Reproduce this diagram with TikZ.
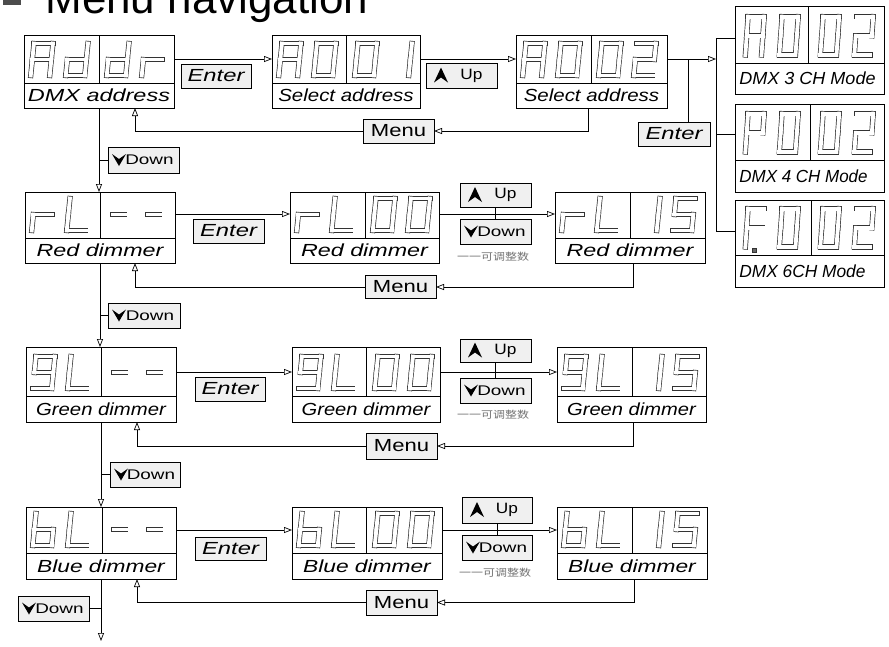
\documentclass[tikz,border=0pt]{standalone}
\usepackage{fontspec}
\setmainfont{Liberation Sans}
\newfontfamily\cjk{Noto Sans CJK SC}
\usepackage{graphicx}
\usetikzlibrary{arrows.meta}
\newcommand\hs[2]{\scalebox{#1}[1]{#2}}
% seven-segment centre lines (local coords, y down, origin bottom-left)
\def\sga#1{\draw[#1] (2.5,-34.5)--(21.5,-34.5);}
\def\sgb#1{\draw[#1] (21.5,-34.5)--(21.5,-18.5);}
\def\sgc#1{\draw[#1] (21.5,-18.5)--(21.5,-2.5);}
\def\sgd#1{\draw[#1] (2.5,-2.5)--(21.5,-2.5);}
\def\sge#1{\draw[#1] (2.5,-18.5)--(2.5,-2.5);}
\def\sgf#1{\draw[#1] (2.5,-34.5)--(2.5,-18.5);}
\def\sgg#1{\draw[#1] (2.5,-18.5)--(21.5,-18.5);}
\def\sgh#1{\draw[#1] (6,-18.5)--(18,-18.5);}
\newcommand\defch[2]{\expandafter\def\csname chr-#1\endcsname{#2}}
\defch{A}{a,b,c,e,f,g}
\defch{d}{b,c,d,e,g}
\defch{r}{e,g}
\defch{0}{a,b,c,d,e,f}
\defch{1}{b,c}
\defch{2}{a,b,g,e,d}
\defch{5}{a,f,g,c,d}
\defch{9}{a,b,c,d,f,g}
\defch{L}{d,e,f}
\defch{b}{c,d,e,f,g}
\defch{-}{h}
\defch{P}{a,b,e,f,g}
\defch{F}{a,e,f,g}
\newcommand\segch[4][]{\begin{scope}[shift={({#2},{#3})},#1,xslant=0.1]
  \edef\chlist{\csname chr-#4\endcsname}
  \foreach \s in \chlist {\csname sg\s\endcsname{segout}}
  \foreach \s in \chlist {\csname sg\s\endcsname{segin}}
\end{scope}}
\newcommand\digs[6]{\segch{#1+4}{#2}{#3}\segch{#1+39}{#2}{#4}\segch{#1+80}{#2}{#5}\segch{#1+115}{#2}{#6}}
\newcommand\bigdigs[6]{\segch[xscale=0.85,yscale=1.2]{#1+8}{#2}{#3}\segch[xscale=0.85,yscale=1.2]{#1+42}{#2}{#4}\segch[xscale=0.85,yscale=1.2]{#1+83}{#2}{#5}\segch[xscale=0.85,yscale=1.2]{#1+117}{#2}{#6}}
% display box: name x1 y1 x2 y2 ydiv xdiv label
\newcommand\dispbox[8]{%
  \node[dbx, minimum width={(#4-#2)*1pt}, minimum height={(#5-#3)*1pt}] (#1) at ({(#2+#4)/2},{(#3+#5)/2}) {};
  \draw (#2,#6) -- (#4,#6);
  \draw (#7,#3) -- (#7,#6);
  \node[lab] (#1-l) at ({(#2+#4)/2},{(#6+#5)/2}) {#8};}
\newcommand\dispplain[7]{%
  \node[dbx, minimum width={(#4-#2)*1pt}, minimum height={(#5-#3)*1pt}] (#1) at ({(#2+#4)/2},{(#3+#5)/2}) {};
  \draw (#2,#6) -- (#4,#6);
  \draw (#7,#3) -- (#7,#6);}
\newcommand\upsym[1]{\fill ([xshift=15pt]#1.west) ++(0,-8) -- ++(7,15) -- ++(-7,-5) -- ++(-7,5) -- cycle;}
\newcommand\dnsym[1]{\fill ([xshift=11pt]#1.west) ++(0,6) -- ++(-7,-12) -- ++(7,5) -- ++(7,-5) -- cycle;}
\newcommand\uptext{\hspace{20pt}\hs{1.15}{\fontsize{15}{15}\selectfont Up}}
\newcommand\dntext{\hspace{12pt}\hs{1.35}{\fontsize{14}{14}\selectfont Down}}
\newcommand\entext{\hs{1.36}{\itshape Enter}}
\newcommand\mntext{\hs{1.26}{Menu}}
\newcommand\cntext{\hs{1.2}{一一可调整数}}
\begin{document}
\begin{tikzpicture}[x=1pt,y=-1pt, line width=0.7pt,
  arr/.style={-{Triangle[open,length=8pt,width=6pt]}},
  dbx/.style={draw, inner sep=0pt, outer sep=0pt},
  btn/.style={draw, fill=black!6, inner sep=0pt, outer sep=0pt, font=\fontsize{17.5}{18}\selectfont},
  lab/.style={inner sep=0pt, font=\fontsize{17.5}{18}\selectfont\itshape},
  cn/.style={inner sep=0pt, text=black!55, font=\cjk\fontsize{10}{10}\selectfont},
  segout/.style={draw=black!80, line width=5.2pt, line cap=rect},
  segin/.style={draw=white, line width=3.8pt, line cap=rect},
]
\useasboundingbox (0,0) rectangle (889,646);
\clip (0,0) rectangle (889,646);
% title
\fill[black!70] (3,-14) rectangle (21,5);
\node[anchor=base west, inner sep=0pt, font=\fontsize{44}{44}\selectfont] (title) at (45,13) {Menu navigation};
% row 1
\dispbox{addr}{24}{35}{174}{108}{83}{99}{\hs{1.34}{DMX address}}
\digs{24}{78}{A}{d}{d}{r}
\dispbox{sa1}{272}{35}{420}{108}{83}{346}{\hs{1.17}{Select address}}
\digs{272}{78}{A}{0}{0}{1}
\dispbox{sa2}{516}{35}{667}{108}{83}{591}{\hs{1.17}{Select address}}
\digs{516}{78}{A}{0}{0}{2}
% right column
\dispplain{m3}{735}{6}{884}{94}{63}{808}
\node[lab, anchor=west] (m3-l) at (739,78.5) {\hs{1.03}{DMX 3 CH Mode}};
\bigdigs{735}{58}{A}{0}{0}{2}
\dispplain{m4}{735}{104}{884}{192}{160}{810}
\node[lab, anchor=west] (m4-l) at (739,176) {\hs{0.97}{DMX 4 CH Mode}};
\bigdigs{735}{155}{P}{0}{0}{2}
\dispplain{m6}{735}{200}{884}{287}{255}{811}
\node[lab, anchor=west] (m6-l) at (739,271) {\hs{0.99}{DMX 6CH Mode}};
\bigdigs{735}{250}{F}{0}{0}{2}
\filldraw[draw=black!80, line width=0.6pt, fill=black!60] (752,248) rectangle (756,252);
% row 2
\dispbox{rl}{25}{192}{175}{263}{238}{100}{\hs{1.33}{Red dimmer}}
\digs{25}{233}{r}{L}{-}{-}
\dispbox{r0}{290}{192}{439}{263}{238}{365}{\hs{1.33}{Red dimmer}}
\digs{290}{233}{r}{L}{0}{0}
\dispbox{r15}{555}{192}{705}{263}{238}{630}{\hs{1.33}{Red dimmer}}
\digs{555}{233}{r}{L}{1}{5}
% row 3
\dispbox{gl}{26}{347}{176}{422}{396}{101}{\hs{1.16}{Green dimmer}}
\digs{26}{391}{9}{L}{-}{-}
\dispbox{g0}{292}{347}{440}{422}{396}{366}{\hs{1.15}{Green dimmer}}
\digs{292}{391}{9}{L}{0}{0}
\dispbox{g15}{557}{347}{706}{422}{396}{632}{\hs{1.15}{Green dimmer}}
\digs{557}{391}{9}{L}{1}{5}
% row 4
\dispbox{bl}{26}{507}{176}{579}{553}{102}{\hs{1.3}{Blue dimmer}}
\digs{26}{548}{b}{L}{-}{-}
\dispbox{b0}{292}{507}{442}{579}{553}{366}{\hs{1.3}{Blue dimmer}}
\digs{292}{548}{b}{L}{0}{0}
\dispbox{b15}{557}{507}{707}{579}{553}{632}{\hs{1.3}{Blue dimmer}}
\digs{557}{548}{b}{L}{1}{5}
% buttons row 1
\node[btn, minimum width=70pt, minimum height=24pt] (en1) at (216,76) {\entext};
\node[btn, minimum width=71pt, minimum height=25pt] (up1) at (461.5,75.5) {\uptext};
\node[btn, minimum width=71pt, minimum height=24pt] (mn1) at (398.5,131) {\mntext};
\node[btn, minimum width=71pt, minimum height=26pt] (dd1) at (143.5,160) {\dntext};
\node[btn, minimum width=72pt, minimum height=24pt] (enR) at (674,134) {\entext};
% buttons row 2
\node[btn, minimum width=71pt, minimum height=24pt] (en2) at (228.5,231) {\entext};
\node[btn, minimum width=71pt, minimum height=24pt] (up2) at (495.5,195) {\uptext};
\node[btn, minimum width=71pt, minimum height=25pt] (dn2) at (495.5,231.5) {\dntext};
\node[btn, minimum width=71pt, minimum height=23pt] (mn2) at (400.5,287) {\mntext};
\node[btn, minimum width=72pt, minimum height=25pt] (dd2) at (144,315.5) {\dntext};
\node[cn] (cn2) at (493,257) {\cntext};
% buttons row 3
\node[btn, minimum width=70pt, minimum height=24pt] (en3) at (230,389) {\entext};
\node[btn, minimum width=71pt, minimum height=23pt] (up3) at (495.5,350.5) {\uptext};
\node[btn, minimum width=71pt, minimum height=25pt] (dn3) at (495.5,390.5) {\dntext};
\node[btn, minimum width=71pt, minimum height=26pt] (mn3) at (401.5,446) {\mntext};
\node[btn, minimum width=70pt, minimum height=25pt] (dd3) at (145,474.5) {\dntext};
\node[cn] (cn3) at (493,415) {\cntext};
% buttons row 4
\node[btn, minimum width=71pt, minimum height=23pt] (en4) at (230.5,548.5) {\entext};
\node[btn, minimum width=70pt, minimum height=26pt] (up4) at (497,510) {\uptext};
\node[btn, minimum width=70pt, minimum height=25pt] (dn4) at (497,547.5) {\dntext};
\node[btn, minimum width=71pt, minimum height=25pt] (mn4) at (401.5,602.5) {\mntext};
\node[btn, minimum width=71pt, minimum height=25pt] (dd4) at (53.5,608.5) {\dntext};
\node[cn] (cn4) at (495,573) {\cntext};
% symbols
\upsym{up1}\upsym{up2}\upsym{up3}\upsym{up4}
\dnsym{dd1}\dnsym{dd2}\dnsym{dd3}\dnsym{dd4}
\dnsym{dn2}\dnsym{dn3}\dnsym{dn4}
% coordinates
\coordinate (y1) at (0,59);
\coordinate (y2) at (0,214);
\coordinate (y3) at (0,372);
\coordinate (y4) at (0,530);
\coordinate (bt) at (716,38);
\coordinate (bm) at (716,134);
\coordinate (bb) at (716,231);
\coordinate (ej) at (688,59);
\coordinate (k1) at (588,0);
\coordinate (k2) at (633,0);
\coordinate (k3) at (633,0);
\coordinate (k4) at (634,0);
\coordinate (a1) at (135,0);
\coordinate (a2) at (135,0);
\coordinate (a3) at (137,0);
\coordinate (a4) at (137,0);
\coordinate (end) at (102,641);
% row connectors
\draw[arr] (addr.east |- y1) -- (sa1.west |- y1);
\draw[arr] (sa1.east |- y1) -- (sa2.west |- y1);
\draw[arr] (sa2.east |- y1) -- (bt |- y1);
\draw (bt) -- (bb);
\draw (bt) -- (m3.west |- bt);
\draw (bm) -- (m4.west |- bm);
\draw (bb) -- (m6.west |- bb);
\draw (ej) -- (ej |- enR.north);
\draw[arr] (rl.east |- y2) -- (r0.west |- y2);
\draw[arr] (r0.east |- y2) -- (r15.west |- y2);
\draw (up2.south) -- (dn2.north);
\draw[arr] (gl.east |- y3) -- (g0.west |- y3);
\draw[arr] (g0.east |- y3) -- (g15.west |- y3);
\draw (up3.south) -- (dn3.north);
\draw[arr] (bl.east |- y4) -- (b0.west |- y4);
\draw[arr] (b0.east |- y4) -- (b15.west |- y4);
\draw (up4.south) -- (dn4.north);
% return connectors
\draw[arr] (sa2.south -| k1) |- (mn1);
\draw[arr] (mn1.west) -| (addr.south -| a1);
\draw[arr] (r15.south -| k2) |- (mn2);
\draw[arr] (mn2.west) -| (rl.south -| a2);
\draw[arr] (g15.south -| k3) |- (mn3);
\draw[arr] (mn3.west) -| (gl.south -| a3);
\draw[arr] (b15.south -| k4) |- (mn4);
\draw[arr] (mn4.west) -| (bl.south -| a4);
% down connectors
\draw[arr] (addr.south) -- (addr.south |- rl.north);
\draw (dd1.west) -- (dd1.west -| addr.south);
\draw[arr] (rl.south) -- (rl.south |- gl.north);
\draw (dd2.west) -- (dd2.west -| rl.south);
\draw[arr] (gl.south) -- (gl.south |- bl.north);
\draw (dd3.west) -- (dd3.west -| gl.south);
\draw[arr] (bl.south) -- (bl.south |- end);
\draw (dd4.east) -- (dd4.east -| bl.south);
\end{tikzpicture}
\end{document}
